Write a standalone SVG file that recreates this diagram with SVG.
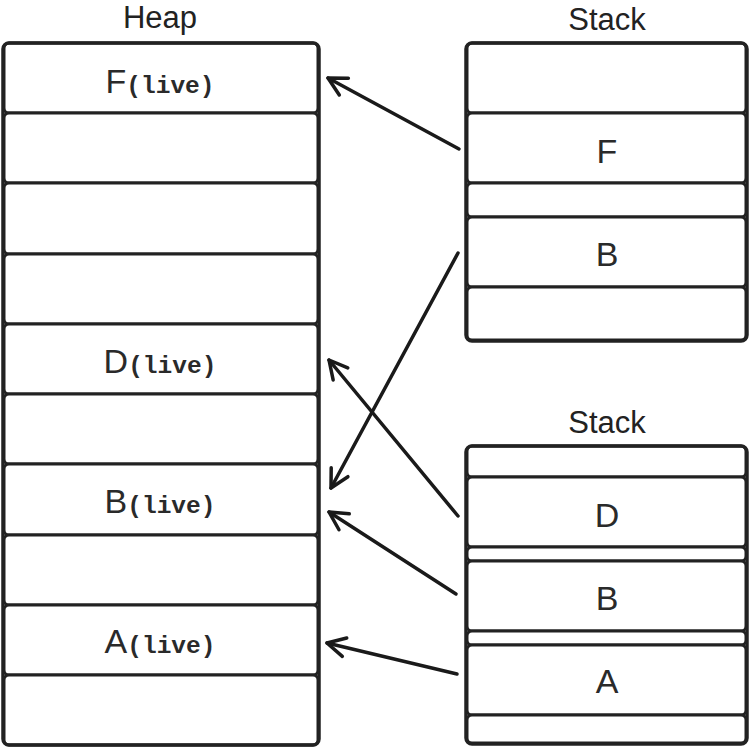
<svg xmlns="http://www.w3.org/2000/svg" width="750" height="747" viewBox="0 0 750 747">
<defs>
<style>
.c{fill:#fff;stroke:#222;stroke-width:3}
.o{fill:none;stroke:#222;stroke-width:3.5}
.t{font-family:"Liberation Sans",Arial,sans-serif;fill:#222;font-size:31px;text-anchor:middle}
.l{font-family:"Liberation Sans",Arial,sans-serif;fill:#2a2a2a;font-size:34px;text-anchor:middle}
.m{font-family:"Liberation Mono","DejaVu Sans Mono",monospace;font-size:24.5px;font-weight:bold}
.a{fill:none;stroke:#1a1a1a;stroke-width:3.5;stroke-linecap:round;stroke-linejoin:round}
</style>
<marker id="ah" viewBox="0 0 24 24" refX="21" refY="12" markerWidth="24" markerHeight="24" markerUnits="userSpaceOnUse" orient="auto">
<path d="M3 2.5 L21 12 L3 21.5" fill="none" stroke="#1a1a1a" stroke-width="3.5" stroke-linecap="round" stroke-linejoin="round"/>
</marker>
</defs>
<rect width="750" height="747" fill="#fff"/>
<g id="heap">
<text class="t" x="160" y="28">Heap</text>
<rect class="c" x="4" y="43" width="314" height="70" rx="5"/>
<rect class="c" x="4" y="113" width="314" height="70" rx="5"/>
<rect class="c" x="4" y="183" width="314" height="71" rx="5"/>
<rect class="c" x="4" y="254" width="314" height="70" rx="5"/>
<rect class="c" x="4" y="324" width="314" height="70" rx="5"/>
<rect class="c" x="4" y="394" width="314" height="70" rx="5"/>
<rect class="c" x="4" y="464" width="314" height="71" rx="5"/>
<rect class="c" x="4" y="535" width="314" height="70" rx="5"/>
<rect class="c" x="4" y="605" width="314" height="70" rx="5"/>
<rect class="c" x="4" y="675" width="314" height="70" rx="5"/>
<rect class="o" x="3" y="43" width="316" height="702" rx="6"/>
<text class="l" x="160" y="93">F<tspan class="m">(live)</tspan></text>
<text class="l" x="160" y="373">D<tspan class="m">(live)</tspan></text>
<text class="l" x="160" y="513">B<tspan class="m">(live)</tspan></text>
<text class="l" x="160" y="653">A<tspan class="m">(live)</tspan></text>
</g>
<g id="stack1">
<text class="t" x="607" y="30">Stack</text>
<rect class="c" x="467" y="43" width="279" height="70" rx="5"/>
<rect class="c" x="467" y="113" width="279" height="70" rx="5"/>
<rect class="c" x="467" y="183" width="279" height="34" rx="5"/>
<rect class="c" x="467" y="217" width="279" height="70" rx="5"/>
<rect class="c" x="467" y="287" width="279" height="53" rx="5"/>
<rect class="o" x="466" y="43" width="281" height="298" rx="6"/>
<text class="l" x="607" y="163">F</text>
<text class="l" x="607" y="266">B</text>
</g>
<g id="stack2">
<text class="t" x="607" y="433">Stack</text>
<rect class="c" x="467" y="446" width="279" height="31" rx="5"/>
<rect class="c" x="467" y="477" width="279" height="70" rx="5"/>
<rect class="c" x="467" y="547" width="279" height="14" rx="5"/>
<rect class="c" x="467" y="561" width="279" height="70" rx="5"/>
<rect class="c" x="467" y="631" width="279" height="14" rx="5"/>
<rect class="c" x="467" y="645" width="279" height="70" rx="5"/>
<rect class="c" x="467" y="715" width="279" height="28" rx="5"/>
<rect class="o" x="466" y="446" width="281" height="298" rx="6"/>
<text class="l" x="607" y="527">D</text>
<text class="l" x="607" y="610">B</text>
<text class="l" x="607" y="693">A</text>
</g>
<g id="connectors">
<line class="a" x1="459" y1="149" x2="328" y2="78" marker-end="url(#ah)"/>
<line class="a" x1="458" y1="253" x2="331" y2="488" marker-end="url(#ah)"/>
<line class="a" x1="458" y1="516" x2="329" y2="360" marker-end="url(#ah)"/>
<line class="a" x1="456" y1="594" x2="329" y2="512" marker-end="url(#ah)"/>
<line class="a" x1="457" y1="674" x2="327" y2="643" marker-end="url(#ah)"/>
</g>
</svg>
